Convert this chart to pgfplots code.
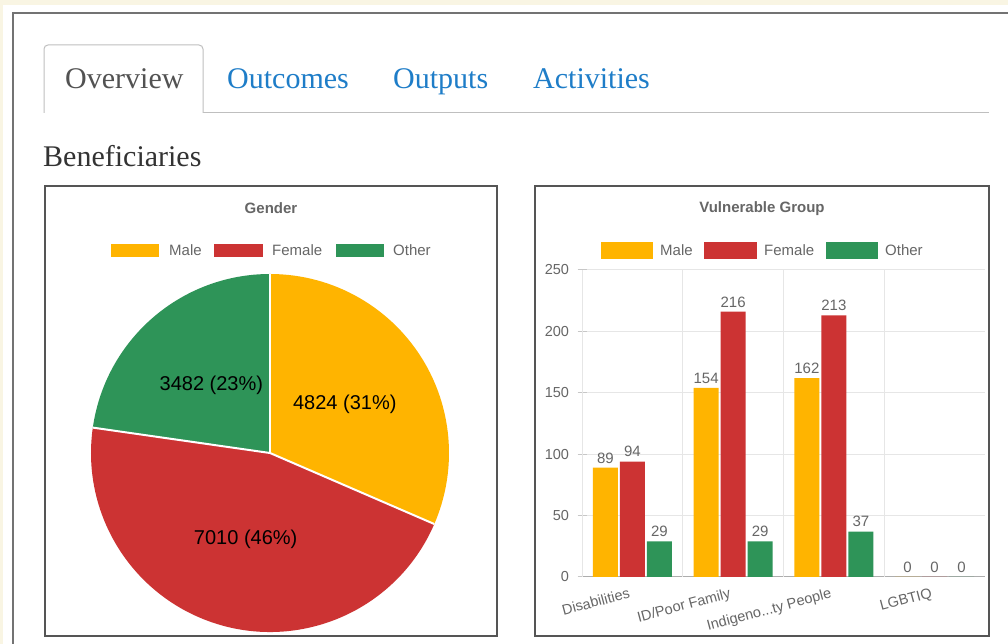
\documentclass[border=0pt]{standalone}
\usepackage{fontspec}
\setmainfont{Liberation Serif}
\newfontfamily\arial{Liberation Sans}
\usepackage{pgfplots}
\usepackage{pgfplotstable}
\pgfplotsset{compat=1.18}
\definecolor{cMale}{RGB}{255,180,0}
\definecolor{cFemale}{RGB}{204,51,51}
\definecolor{cOther}{RGB}{46,148,88}
\definecolor{cream}{RGB}{249,245,227}
\definecolor{tabblue}{RGB}{30,125,200}
\definecolor{txtgrey}{RGB}{102,102,102}
\definecolor{gridgrey}{RGB}{230,230,230}
\definecolor{boxgrey}{RGB}{85,85,85}
\newcommand\tdots{...}

\pgfplotstableread{
cat male female other
0 89 94 29
1 154 216 29
2 162 213 37
3 0 0 0
}\vgroup

\def\gMale{4824}
\def\gFemale{7010}
\def\gOther{3482}

\begin{document}
\begin{tikzpicture}[x=1pt,y=1pt]
\path[use as bounding box] (0,0) rectangle (1008,644);
\fill[white] (0,0) rectangle (1008,644);
\fill[cream] (0,639) rectangle (1008,644);
\fill[cream] (0,0) rectangle (3,644);
% outer panel border
\draw[line width=2.2pt, black!55] (13,0) -- (13,631) -- (1008,631);
% tabs
\draw[gridgrey!80!black!90, line width=1pt] (44,531) -- (989,531);
\draw[gridgrey!80!black!90, line width=1pt, rounded corners=4pt, fill=white] (44,531) -- (44,599) -- (203,599) -- (203,531);
\node[anchor=base west, inner sep=0, font=\fontsize{30}{36}\selectfont, text=black!68] at (65,555) {Overview};
\node[anchor=base west, inner sep=0, font=\fontsize{30}{36}\selectfont, text=tabblue] at (227,555) {Outcomes};
\node[anchor=base west, inner sep=0, font=\fontsize{30}{36}\selectfont, text=tabblue] at (393,555) {Outputs};
\node[anchor=base west, inner sep=0, font=\fontsize{30}{36}\selectfont, text=tabblue] at (533,555) {Activities};
\node[anchor=base west, inner sep=0, font=\fontsize{30}{36}\selectfont, text=black!80] at (43,477) {Beneficiaries};
% chart boxes
\draw[boxgrey, line width=2pt] (45,8) rectangle (497,458);
\draw[boxgrey, line width=2pt] (535,8) rectangle (989,458);

% ---------- Pie chart ----------
\node[font=\arial\bfseries\fontsize{15}{18}\selectfont, text=txtgrey] at (271,436) {Gender};
\fill[cMale] (111,387) rectangle (159,400);
\node[anchor=west, inner sep=0, font=\arial\fontsize{15}{18}\selectfont, text=txtgrey] at (169,393.5) {Male};
\fill[cFemale] (214,387) rectangle (263,400);
\node[anchor=west, inner sep=0, font=\arial\fontsize{15}{18}\selectfont, text=txtgrey] at (272,393.5) {Female};
\fill[cOther] (336,387) rectangle (384,400);
\node[anchor=west, inner sep=0, font=\arial\fontsize{15}{18}\selectfont, text=txtgrey] at (393,393.5) {Other};

\pgfmathsetmacro\tot{\gMale+\gFemale+\gOther}
\pgfmathsetmacro\fA{\gMale/\tot}
\pgfmathsetmacro\fB{\gFemale/\tot}
\pgfmathsetmacro\aA{90}
\pgfmathsetmacro\aB{90-360*\fA}
\pgfmathsetmacro\aC{\aB-360*\fB}
\pgfmathsetmacro\aD{-270}
\pgfmathsetmacro\mA{(\aA+\aB)/2}
\pgfmathsetmacro\mB{(\aB+\aC)/2}
\pgfmathsetmacro\mC{(\aC+\aD)/2}
\begin{scope}[shift={(91,12)}]
\begin{axis}[at={(0,0)}, anchor=south west, scale only axis, width=358pt, height=358pt,
  xmin=-1, xmax=1, ymin=-1, ymax=1, hide axis, clip=false]
\fill[cMale] (axis cs:0,0) -- (axis cs:{cos(\aA)},{sin(\aA)}) arc[start angle=\aA, end angle=\aB, radius=179pt] -- cycle;
\fill[cFemale] (axis cs:0,0) -- (axis cs:{cos(\aB)},{sin(\aB)}) arc[start angle=\aB, end angle=\aC, radius=179pt] -- cycle;
\fill[cOther] (axis cs:0,0) -- (axis cs:{cos(\aC)},{sin(\aC)}) arc[start angle=\aC, end angle=\aD, radius=179pt] -- cycle;
\draw[white, line width=2pt] (axis cs:0,0) -- (axis cs:{cos(\aA)},{sin(\aA)});
\draw[white, line width=2pt] (axis cs:0,0) -- (axis cs:{cos(\aB)},{sin(\aB)});
\draw[white, line width=2pt] (axis cs:0,0) -- (axis cs:{cos(\aC)},{sin(\aC)});
\node[font=\arial\fontsize{20}{24}\selectfont] at (axis cs:{0.5*cos(\mA)},{0.5*sin(\mA)}) {4824 (31\%)};
\node[font=\arial\fontsize{20}{24}\selectfont] at (axis cs:{0.5*cos(\mB)},{0.5*sin(\mB)}) {7010 (46\%)};
\node[font=\arial\fontsize{20}{24}\selectfont] at (axis cs:{0.5*cos(\mC)},{0.5*sin(\mC)}) {3482 (23\%)};
\end{axis}
\end{scope}

% ---------- Bar chart ----------
\node[font=\arial\bfseries\fontsize{15}{18}\selectfont, text=txtgrey] at (762,435) {Vulnerable Group};
\fill[cMale] (601,385) rectangle (653,402);
\node[anchor=west, inner sep=0, font=\arial\fontsize{15}{18}\selectfont, text=txtgrey] at (660,393.5) {Male};
\fill[cFemale] (704,385) rectangle (757,402);
\node[anchor=west, inner sep=0, font=\arial\fontsize{15}{18}\selectfont, text=txtgrey] at (764,393.5) {Female};
\fill[cOther] (826,385) rectangle (878,402);
\node[anchor=west, inner sep=0, font=\arial\fontsize{15}{18}\selectfont, text=txtgrey] at (885,393.5) {Other};

\begin{scope}[shift={(582,67)}]
\begin{axis}[at={(0,0)}, anchor=south west, scale only axis,
  width=403pt, height=307pt,
  xmin=-0.5, xmax=3.5, ymin=0, ymax=250,
  ytick={0,50,100,150,200,250},
  xtick={0,1,2,3},
  xticklabels={Disabilities, ID/Poor Family, Indigeno\tdots ty People, LGBTIQ},
  x tick style={draw=none},
  y tick style={draw=gridgrey!70!black!60, line width=1pt},
  tick align=outside, major tick length=9pt,
  extra x ticks={-0.5,0.5,1.5,2.5},
  extra x tick labels={},
  extra x tick style={grid=major, tick style={draw=gridgrey!70!black!60, line width=1pt}, major tick length=8pt},
  ymajorgrids, grid style={draw=gridgrey, line width=1pt},
  axis x line=bottom, axis y line=left,
  axis line style={-, draw=gridgrey!60!black!70, line width=1pt},
  /pgf/number format/assume math mode=true,
  ticklabel style={font=\arial\fontsize{14.5}{17}\selectfont, text=txtgrey},
  yticklabel style={xshift=-5pt},
  xticklabel style={rotate=15, anchor=north east, inner sep=0pt, xshift=-4.5pt, yshift=0pt},
  ybar, bar width=25pt,
  nodes near coords,
  every node near coord/.append style={font=\arial\fontsize{15}{18}\selectfont, text=txtgrey, anchor=south, yshift=1pt},
  clip=false,
]
\addplot[fill=cMale, draw=none, bar shift=-27pt] table[x=cat, y=male] {\vgroup};
\addplot[fill=cFemale, draw=none, bar shift=0pt] table[x=cat, y=female] {\vgroup};
\addplot[fill=cOther, draw=none, bar shift=27pt] table[x=cat, y=other] {\vgroup};
\end{axis}
\end{scope}
\end{tikzpicture}
\end{document}
